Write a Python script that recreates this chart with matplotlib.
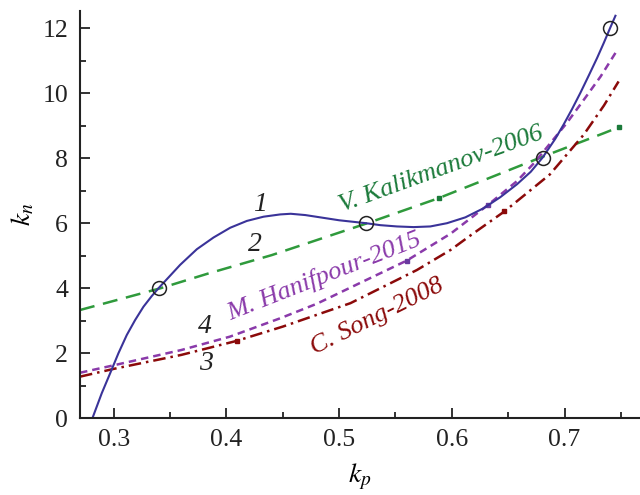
import matplotlib
matplotlib.use('Agg')
import matplotlib.pyplot as plt
from matplotlib.ticker import MultipleLocator

plt.rcParams['font.family'] = 'Liberation Serif'
plt.rcParams['mathtext.fontset'] = 'stix'

# curve 1 (solid)
x1 = [0.2810, 0.2893, 0.2967, 0.3041, 0.3115, 0.3189, 0.3263, 0.3337, 0.3402,
      0.3485, 0.3589, 0.3737, 0.3885, 0.4033, 0.4181, 0.4329, 0.4477, 0.4570,
      0.4700, 0.4850, 0.5000, 0.5238, 0.5365, 0.5513, 0.5661, 0.5809, 0.5957,
      0.6120, 0.6282, 0.6430, 0.6579, 0.6700, 0.6806, 0.6919, 0.6993, 0.7067,
      0.7141, 0.7215, 0.7289, 0.7348, 0.7408, 0.7452]
y1 = [0.0, 0.77, 1.38, 2.00, 2.56, 3.02, 3.43, 3.76, 4.02,
      4.33, 4.72, 5.20, 5.56, 5.86, 6.07, 6.20, 6.27, 6.29,
      6.25, 6.17, 6.09, 6.00, 5.94, 5.90, 5.88, 5.90, 6.00,
      6.18, 6.46, 6.80, 7.20, 7.58, 8.02, 8.60, 9.04, 9.51,
      10.01, 10.54, 11.08, 11.54, 12.03, 12.38]

# curve 2 (V. Kalikmanov-2006)
x2 = [0.270, 0.3415, 0.3826, 0.4403, 0.525, 0.5883, 0.681, 0.735, 0.748]
y2 = [3.33, 4.0, 4.44, 5.02, 6.0, 6.77, 8.05, 8.77, 8.95]
m2_x = [0.5883, 0.748]
m2_y = [6.77, 8.95]

# curve 3 (C. Song-2008)
x3 = [0.270, 0.300, 0.360, 0.409, 0.450, 0.510, 0.569, 0.599, 0.6164, 0.6466,
      0.687, 0.717, 0.735, 0.748]
y3 = [1.28, 1.52, 1.95, 2.38, 2.82, 3.54, 4.56, 5.18, 5.62, 6.36,
      7.50, 8.72, 9.62, 10.36]
m3_x = [0.409, 0.6466]
m3_y = [2.38, 6.36]

# curve 4 (M. Hanifpour-2015)
x4 = [0.270, 0.300, 0.360, 0.403, 0.448, 0.480, 0.510, 0.560, 0.599, 0.632,
      0.658, 0.673, 0.702, 0.717, 0.732, 0.746]
y4 = [1.40, 1.63, 2.10, 2.51, 3.08, 3.52, 4.02, 4.85, 5.68, 6.56,
      7.30, 7.85, 9.08, 9.79, 10.51, 11.28]
m4_x = [0.560, 0.632]
m4_y = [4.85, 6.56]

# open circles
circ_x = [0.3402, 0.5238, 0.6806, 0.7408]
circ_y = [4.0, 6.0, 8.0, 12.0]

c_blue = '#3a3399'
c_green = '#2f9a3c'
c_green_txt = '#1b7a3a'
c_purple = '#8a3aaa'
c_red = '#8b0a0a'
c_ink = '#222222'

fig = plt.figure(figsize=(6.4, 4.95), dpi=100)
ax = fig.add_axes([0.125, 0.155, 0.875, 0.823])

ax.plot(x2, y2, color=c_green, lw=1.8, dashes=(6, 3.5))
ax.plot(m2_x, m2_y, 's', color=c_green_txt, ms=3.5)
ax.plot(x3, y3, color=c_red, lw=1.8, dashes=(5, 2, 1, 2))
ax.plot(m3_x, m3_y, 's', color=c_red, ms=3.5)
ax.plot(x4, y4, color=c_purple, lw=1.8, dashes=(3, 2))
ax.plot(m4_x, m4_y, 's', color='#6a3aa0', ms=3.5)
ax.plot(x1, y1, color=c_blue, lw=1.5, solid_joinstyle='round')
ax.plot(circ_x, circ_y, 'o', mfc='none', mec=c_ink, ms=10, mew=1.1)

ax.text(0.5907, 7.66, 'V. Kalikmanov-2006', color=c_green_txt, style='italic',
        fontsize=19, rotation=20, ha='center', va='center')
ax.text(0.487, 4.36, 'M. Hanifpour-2015', color=c_purple, style='italic',
        fontsize=19, rotation=21.5, ha='center', va='center')
ax.text(0.534, 3.14, 'C. Song-2008', color=c_red, style='italic',
        fontsize=19, rotation=26.5, ha='center', va='center')
ax.text(0.430, 6.56, '1', style='italic', fontsize=20, ha='center', va='center', color=c_ink)
ax.text(0.4255, 5.33, '2', style='italic', fontsize=20, ha='center', va='center', color=c_ink)
ax.text(0.381, 2.82, '4', style='italic', fontsize=20, ha='center', va='center', color=c_ink)
ax.text(0.382, 1.69, '3', style='italic', fontsize=20, ha='center', va='center', color=c_ink)

ax.set_xlim(0.27, 0.767)
ax.set_ylim(0, 12.53)
ax.xaxis.set_major_locator(MultipleLocator(0.1))
ax.xaxis.set_minor_locator(MultipleLocator(0.05))
ax.yaxis.set_major_locator(MultipleLocator(2))
ax.yaxis.set_minor_locator(MultipleLocator(1))
ax.tick_params(which='both', direction='in', width=1.3, labelsize=18.5, colors=c_ink)
ax.tick_params(which='major', length=7)
ax.tick_params(which='minor', length=4.5)
ax.tick_params(axis='x', pad=7.5)
ax.tick_params(axis='y', pad=8.5)
for s in ['top', 'right']:
    ax.spines[s].set_visible(False)
for s in ['left', 'bottom']:
    ax.spines[s].set_linewidth(1.5)
    ax.spines[s].set_color(c_ink)

ax.set_xlabel(r'$k_p$', fontsize=20, labelpad=8)
ax.set_ylabel(r'$k_n$', fontsize=20, labelpad=4)

plt.savefig('out.png', dpi=100)
plt.close()
